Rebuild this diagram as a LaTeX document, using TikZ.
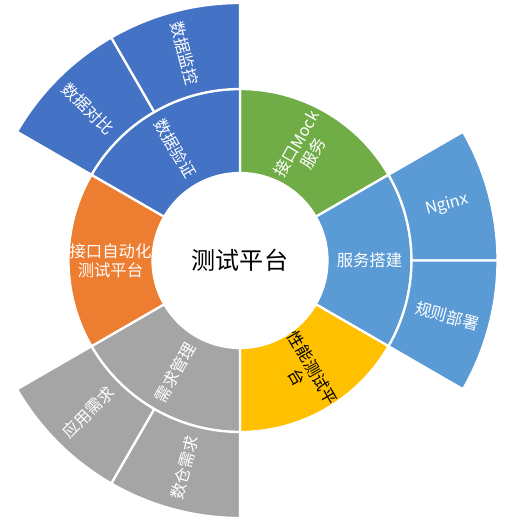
\documentclass[tikz,border=0pt]{standalone}
\usepackage{fontspec}
\setmainfont{Noto Sans CJK SC}
\usepackage{tikz}
\usepackage{xcolor}

\definecolor{mockgreen}{HTML}{70AD47}
\definecolor{deployblue}{HTML}{5B9BD5}
\definecolor{perfyellow}{HTML}{FFC000}
\definecolor{reqgray}{HTML}{A5A5A5}
\definecolor{autoorange}{HTML}{ED7D31}
\definecolor{verifyblue}{HTML}{4472C4}

\begin{document}
\begin{tikzpicture}[
    sector/.style={draw=white, line width=1.3pt},
    lbl/.style={text=white, align=center, inner sep=0pt, font=\fontsize{9.3}{10.6}\selectfont}
  ]
    \useasboundingbox (-4.8,-5.29) rectangle (5.66,5.21);

    % middle ring
    \draw[sector, fill=mockgreen] (30:1.75) arc[start angle=30, end angle=90, radius=1.75] -- (90:3.43) arc[start angle=90, end angle=30, radius=3.43] -- cycle;
    \draw[sector, fill=deployblue] (-30:1.75) arc[start angle=-30, end angle=30, radius=1.75] -- (30:3.43) arc[start angle=30, end angle=-30, radius=3.43] -- cycle;
    \draw[sector, fill=perfyellow] (-90:1.75) arc[start angle=-90, end angle=-30, radius=1.75] -- (-30:3.43) arc[start angle=-30, end angle=-90, radius=3.43] -- cycle;
    \draw[sector, fill=reqgray] (-150:1.75) arc[start angle=-150, end angle=-90, radius=1.75] -- (-90:3.43) arc[start angle=-90, end angle=-150, radius=3.43] -- cycle;
    \draw[sector, fill=autoorange] (150:1.75) arc[start angle=150, end angle=210, radius=1.75] -- (210:3.43) arc[start angle=210, end angle=150, radius=3.43] -- cycle;
    \draw[sector, fill=verifyblue] (90:1.75) arc[start angle=90, end angle=150, radius=1.75] -- (150:3.43) arc[start angle=150, end angle=90, radius=3.43] -- cycle;

    % outer ring
    \draw[sector, fill=deployblue] (0:3.43) arc[start angle=0, end angle=30, radius=3.43] -- (30:5.15) arc[start angle=30, end angle=0, radius=5.15] -- cycle;
    \draw[sector, fill=deployblue] (-30:3.43) arc[start angle=-30, end angle=0, radius=3.43] -- (0:5.15) arc[start angle=0, end angle=-30, radius=5.15] -- cycle;
    \draw[sector, fill=reqgray] (-120:3.43) arc[start angle=-120, end angle=-90, radius=3.43] -- (-90:5.15) arc[start angle=-90, end angle=-120, radius=5.15] -- cycle;
    \draw[sector, fill=reqgray] (-150:3.43) arc[start angle=-150, end angle=-120, radius=3.43] -- (-120:5.15) arc[start angle=-120, end angle=-150, radius=5.15] -- cycle;
    \draw[sector, fill=verifyblue] (120:3.43) arc[start angle=120, end angle=150, radius=3.43] -- (150:5.15) arc[start angle=150, end angle=120, radius=5.15] -- cycle;
    \draw[sector, fill=verifyblue] (90:3.43) arc[start angle=90, end angle=120, radius=3.43] -- (120:5.15) arc[start angle=120, end angle=90, radius=5.15] -- cycle;

    \node[font=\fontsize{13.7}{16}\selectfont] (root) at (0,0) {测试平台};

    \node[lbl, rotate=60] (mock) at (60:2.59) {接口Mock\\服务};
    \node[lbl] (deploy) at (0:2.59) {服务搭建};
    \node[lbl, text=black, rotate=-60] (perf) at (-60:2.59) {性能测试平\\台};
    \node[lbl, rotate=60] (req) at (-120:2.59) {需求管理};
    \node[lbl] (auto) at (180:2.59) {接口自动化\\测试平台};
    \node[lbl, rotate=-60] (verify) at (120:2.59) {数据验证};

    \node[lbl, rotate=15] (nginx) at (15:4.29) {Nginx};
    \node[lbl, rotate=-15] (rules) at (-15:4.29) {规则部署};
    \node[lbl, rotate=75] (dwreq) at (-105:4.29) {数仓需求};
    \node[lbl, rotate=45] (appreq) at (-135:4.29) {应用需求};
    \node[lbl, rotate=-45] (compare) at (135:4.29) {数据对比};
    \node[lbl, rotate=-75] (monitor) at (105:4.29) {数据监控};
  \end{tikzpicture}
\end{document}
